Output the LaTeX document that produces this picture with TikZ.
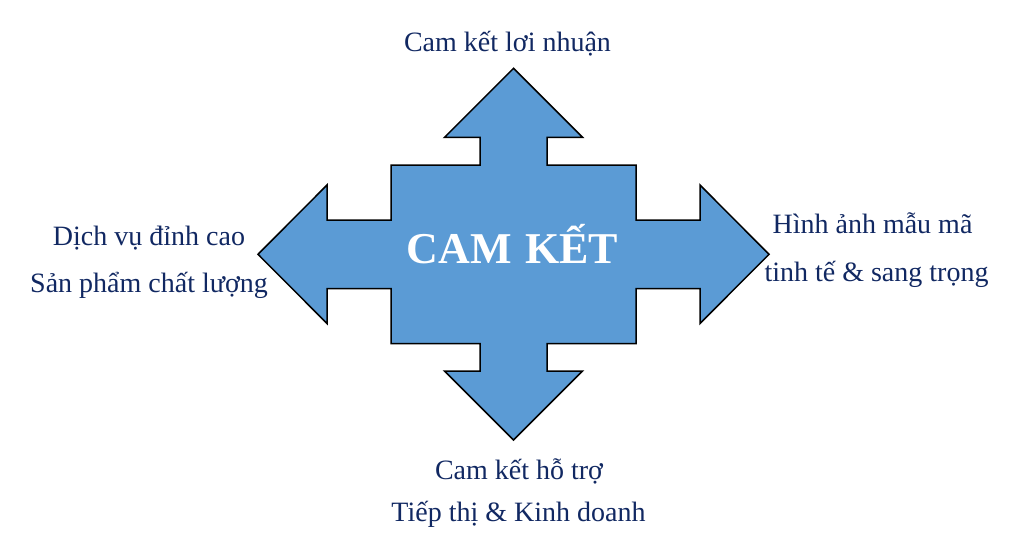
\documentclass[tikz,border=0pt]{standalone}
\usepackage{fontspec}
\setmainfont{Liberation Serif}
\definecolor{arrowblue}{RGB}{91,155,213}
\definecolor{navytext}{RGB}{17,40,98}
\begin{document}
\begin{tikzpicture}[x=1pt,y=-1pt,
  lbl/.style={text=navytext,font=\fontsize{28}{34}\selectfont,anchor=base,inner sep=0pt},
  shapeline/.style={draw=black,line width=1.5pt,fill=arrowblue,line join=miter}]
\useasboundingbox (0,0) rectangle (1019,555);
\draw[shapeline]
 (513.5,68.3) -- (582.5,137.3) -- (547,137.3) -- (547,165) -- (636,165) -- (636,220)
 -- (700,220) -- (700,185) -- (769,254.3) -- (700,323.5) -- (700,288.5) -- (636,288.5)
 -- (636,343.5) -- (547,343.5) -- (547,371) -- (582.5,371) -- (513.5,440) -- (444.5,371)
 -- (480,371) -- (480,343.5) -- (391,343.5) -- (391,288.5) -- (327,288.5) -- (327,323.5)
 -- (258,254.3) -- (327,185) -- (327,220) -- (391,220) -- (391,165) -- (480,165)
 -- (480,137.3) -- (444.5,137.3) -- cycle;
\node[text=white,font=\fontsize{44}{50}\selectfont\bfseries,anchor=base,inner sep=0pt] (center) at (512.5,263) {CAM\hspace{0.3em}KẾT};
\node[lbl] (top) at (507.5,51) {Cam kết lơi nhuận};
\node[lbl] (left1) at (149,245) {Dịch vụ đỉnh cao};
\node[lbl] (left2) at (149,292) {Sản phẩm chất lượng};
\node[lbl] (right1) at (872.5,233) {Hình ảnh mẫu mã};
\node[lbl] (right2) at (876.5,281.5) {tinh tế \& sang trọng};
\node[lbl] (bot1) at (519,479) {Cam kết hỗ trợ};
\node[lbl] (bot2) at (518.5,521.5) {Tiếp thị \& Kinh doanh};
\end{tikzpicture}
\end{document}
